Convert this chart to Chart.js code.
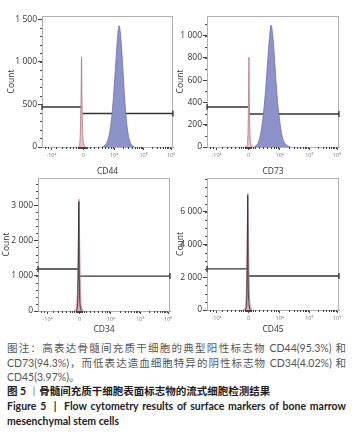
<!DOCTYPE html>
<html>
<head>
<meta charset="utf-8">
<script src="https://cdn.jsdelivr.net/npm/chart.js@4.4.0/dist/chart.umd.min.js"></script>
<style>
html, body { margin: 0; padding: 0; background: #fff; width: 355px; height: 436px; overflow: hidden; position: relative; }
canvas { position: absolute; }
.cap { position: absolute; left: 7px; width: 339px; white-space: nowrap; font-family: Lato, "Noto Sans CJK SC", sans-serif; font-size: 10.5px; line-height: 14px; color: #555; }
.j { text-align: justify; text-align-last: justify; }
.b { font-weight: bold; color: #222; }
</style>
</head>
<body>
<canvas id="c1" width="176" height="178" style="left:0;top:0"></canvas>
<canvas id="c2" width="183" height="178" style="left:172px;top:0"></canvas>
<canvas id="c3" width="176" height="166" style="left:0;top:170px"></canvas>
<canvas id="c4" width="183" height="166" style="left:172px;top:170px"></canvas>

<div class="cap j" style="top:341px">图注：高表达骨髓间充质干细胞的典型阳性标志物 CD44(95.3%) 和</div>
<div class="cap j" style="top:356px">CD73(94.3%)，而低表达造血细胞特异的阴性标志物 CD34(4.02%) 和</div>
<div class="cap" style="top:370px">CD45(3.97%)。</div>
<div class="cap b" style="top:384px">图 5 <span style="font-weight:normal;color:#888">丨</span>骨髓间充质干细胞表面标志物的流式细胞检测结果</div>
<div class="cap b j" style="top:399px">Figure 5 &nbsp;| &nbsp;Flow cytometry results of surface markers of bone marrow</div>
<div class="cap b" style="top:414px">mesenchymal stem cells</div>

<script>
// x axis in biexponential display units (0..1000 across the plot)
const xTickPos = [72, 315, 550, 775, 985];
const xTickLabels = ['-10⁴', '0', '10⁴', '10⁵', '10⁶'];
const xMinorPos = [20, 45, 110, 150, 185, 215, 240, 260, 275, 285, 292, 298, 303, 308, 312, 318, 323, 328, 334,
  345, 365, 395, 425, 455, 482, 505, 525, 540, 618, 657, 685, 707, 725, 740, 753, 765,
  838, 875, 901, 922, 938, 952, 965, 975];

// CD44
const cd44SampleX = [460, 480, 500, 520, 540, 555, 570, 580, 588, 596, 608, 620, 632, 645, 660, 675, 690, 705];
const cd44SampleY = [0, 20, 70, 200, 480, 800, 1150, 1350, 1425, 1370, 1150, 850, 550, 300, 130, 50, 15, 0];
const cd44CtrlX = [270, 285, 292, 298, 302, 306, 312, 320, 332];
const cd44CtrlY = [0, 20, 150, 600, 1060, 500, 120, 30, 0];
const cd44Gate = [470, 394];
const cd44Split = [305, 310];
const cd44YTicks = [0, 500, 1000, 1500];
const cd44YLabels = ['0', '500', '1 000', '1 500'];

// CD73
const cd73SampleX = [355, 375, 395, 415, 430, 445, 460, 472, 485, 498, 510, 522, 535, 548, 562, 578, 600, 630];
const cd73SampleY = [0, 15, 60, 180, 330, 530, 780, 960, 1094, 1000, 820, 600, 400, 260, 140, 60, 20, 0];
const cd73CtrlX = [290, 305, 311, 315, 318, 321, 326, 334, 345];
const cd73CtrlY = [0, 20, 150, 500, 807, 400, 100, 25, 0];
const cd73Gate = [359, 296];
const cd73Split = [310, 318];
const cd73YTicks = [0, 200, 400, 600, 800, 1000];
const cd73YLabels = ['0', '200', '400', '600', '800', '1 000'];

// CD34
const cd34SampleX = [285, 298, 304, 309, 312, 318, 330];
const cd34SampleY = [0, 80, 900, 3100, 1200, 200, 0];
const cd34CtrlX = [270, 285, 296, 304, 311, 316, 322, 332, 345];
const cd34CtrlY = [0, 30, 300, 1500, 3170, 1800, 500, 80, 0];
const cd34Gate = [1190, 990];
const cd34Split = [303, 310];
const cd34YTicks = [0, 1000, 2000, 3000];
const cd34YLabels = ['0', '1 000', '2 000', '3 000'];

// CD45
const cd45SampleX = [285, 298, 304, 308, 311, 318, 330];
const cd45SampleY = [0, 150, 2000, 7000, 2500, 400, 0];
const cd45CtrlX = [270, 285, 296, 304, 310, 315, 321, 332, 345];
const cd45CtrlY = [0, 60, 700, 3500, 7150, 4000, 1000, 150, 0];
const cd45Gate = [2510, 2080];
const cd45Split = [303, 310];
const cd45YTicks = [0, 2000, 4000, 6000];
const cd45YLabels = ['0', '2 000', '4 000', '6 000'];

Chart.defaults.font.family = "'Open Sans', sans-serif";
Chart.defaults.color = '#333';

const toXY = (xs, ys) => xs.map((x, i) => ({ x: x, y: ys[i] }));

// frame round the plot and the small minor ticks
const axisDecor = {
  id: 'axisDecor',
  beforeDatasetsDraw(chart) {
    const { ctx, chartArea: a } = chart;
    ctx.save();
    ctx.strokeStyle = '#b0b0b0';
    ctx.lineWidth = 1;
    ctx.strokeRect(a.left + 0.5, a.top + 0.5, a.right - a.left - 1, a.bottom - a.top);
    ctx.restore();
  },
  afterDraw(chart, args, opts) {
    const { ctx, chartArea: a, scales: { x, y } } = chart;
    ctx.save();
    ctx.strokeStyle = '#444';
    ctx.lineWidth = 1;
    ctx.beginPath();
    xMinorPos.forEach(v => {
      const px = Math.round(x.getPixelForValue(v)) + 0.5;
      ctx.moveTo(px, a.bottom);
      ctx.lineTo(px, a.bottom + 2);
    });
    for (let v = opts.yMinor; v < y.max; v += opts.yMinor) {
      const py = Math.round(y.getPixelForValue(v)) + 0.5;
      ctx.moveTo(a.left, py);
      ctx.lineTo(a.left - 2, py);
    }
    ctx.stroke();
    ctx.restore();
  }
};

function makePanel(id, p) {
  const datasets = [];
  if (p.dark) {
    datasets.push({
      data: toXY(p.sx, p.sy), borderColor: '#333', borderWidth: 0.9,
      backgroundColor: 'rgba(150,120,150,0.25)', fill: 'origin', pointRadius: 0,
      tension: 0.3, cubicInterpolationMode: 'monotone'
    });
  }
  datasets.push({
    data: toXY(p.cx, p.cy), borderColor: '#b07880', borderWidth: 0.8,
    backgroundColor: 'rgba(238,180,188,0.9)', fill: 'origin', pointRadius: 0,
    tension: 0.3, cubicInterpolationMode: 'monotone'
  });
  if (!p.dark) {
    datasets.push({
      data: toXY(p.sx, p.sy), borderColor: '#6a70b0', borderWidth: 0.8,
      backgroundColor: '#8c93cb', fill: 'origin', pointRadius: 0,
      tension: 0.35, cubicInterpolationMode: 'monotone'
    });
  }
  const gateStyle = {
    borderColor: '#333', borderWidth: 1.3, fill: false, clip: false,
    pointStyle: 'line', rotation: 90, pointBorderColor: '#333', pointBorderWidth: 1.3,
    pointHoverRadius: 0
  };
  datasets.push(Object.assign({
    data: [{ x: 0, y: p.gate[0] }, { x: p.split[0], y: p.gate[0] }],
    pointRadius: c => c.dataIndex === 0 ? 3 : 0
  }, gateStyle));
  datasets.push(Object.assign({
    data: [{ x: p.split[1], y: p.gate[1] }, { x: 1000, y: p.gate[1] }],
    pointRadius: c => c.dataIndex === 1 ? 3 : 0
  }, gateStyle));
  // first dataset drawn on top: put histograms over gates
  datasets.forEach((d, i) => { d.order = i < datasets.length - 2 ? 0 : 1; });

  const L = p.layout;
  new Chart(document.getElementById(id), {
    type: 'line',
    data: { datasets: datasets },
    plugins: [axisDecor],
    options: {
      responsive: false,
      animation: false,
      events: [],
      layout: { autoPadding: false, padding: { top: L.top, right: L.right, left: 0, bottom: 0 } },
      plugins: { legend: { display: false }, tooltip: { enabled: false }, axisDecor: { yMinor: p.yMinor } },
      scales: {
        x: {
          type: 'linear', min: 0, max: 1000,
          afterBuildTicks: s => { s.ticks = xTickPos.map(v => ({ value: v })); },
          afterFit: s => { s.height = L.xh; s.paddingLeft = 0; s.paddingRight = 0; },
          ticks: { callback: (v, i) => xTickLabels[i], font: { size: 5.5 }, color: '#777', padding: 2, maxRotation: 0, autoSkip: false },
          grid: { drawOnChartArea: false, tickLength: 3, tickColor: '#444' },
          border: { color: '#999' },
          title: { display: true, text: p.title, font: { size: 8.5, lineHeight: 1 }, color: '#333', padding: { top: 0, bottom: 1.8 } }
        },
        y: {
          type: 'linear', min: 0, max: p.yMax,
          afterBuildTicks: s => { s.ticks = p.yTicks.map(v => ({ value: v })); },
          afterFit: s => { s.width = L.yw; s.paddingTop = 0; s.paddingBottom = 0; },
          ticks: { callback: (v, i) => p.yLabels[i], font: { size: 8.5 }, color: '#333', padding: 1, autoSkip: false },
          grid: { drawOnChartArea: false, tickLength: 4, tickColor: '#444' },
          border: { color: '#999' },
          title: { display: true, text: 'Count', font: { size: 8.5, lineHeight: 1 }, color: '#333', padding: { top: L.ty, bottom: 0 } }
        }
      }
    }
  });
}

makePanel('c1', { title: 'CD44', yMax: 1540, yTicks: cd44YTicks, yLabels: cd44YLabels, yMinor: 100,
  sx: cd44SampleX, sy: cd44SampleY, cx: cd44CtrlX, cy: cd44CtrlY, gate: cd44Gate, split: cd44Split,
  layout: { top: 16, right: 3, yw: 42, xh: 31, ty: 7.8 } });
makePanel('c2', { title: 'CD73', yMax: 1175, yTicks: cd73YTicks, yLabels: cd73YLabels, yMinor: 100,
  sx: cd73SampleX, sy: cd73SampleY, cx: cd73CtrlX, cy: cd73CtrlY, gate: cd73Gate, split: cd73Split,
  layout: { top: 16, right: 16, yw: 35, xh: 31, ty: 4.2 } });
makePanel('c3', { title: 'CD34', yMax: 3770, yTicks: cd34YTicks, yLabels: cd34YLabels, yMinor: 200, dark: true,
  sx: cd34SampleX, sy: cd34SampleY, cx: cd34CtrlX, cy: cd34CtrlY, gate: cd34Gate, split: cd34Split,
  layout: { top: 8, right: 6, yw: 38, xh: 25, ty: 2.8 } });
makePanel('c4', { title: 'CD45', yMax: 8070, yTicks: cd45YTicks, yLabels: cd45YLabels, yMinor: 500, dark: true,
  sx: cd45SampleX, sy: cd45SampleY, cx: cd45CtrlX, cy: cd45CtrlY, gate: cd45Gate, split: cd45Split,
  layout: { top: 8, right: 16, yw: 35, xh: 26, ty: 4.2 } });
</script>
</body>
</html>
